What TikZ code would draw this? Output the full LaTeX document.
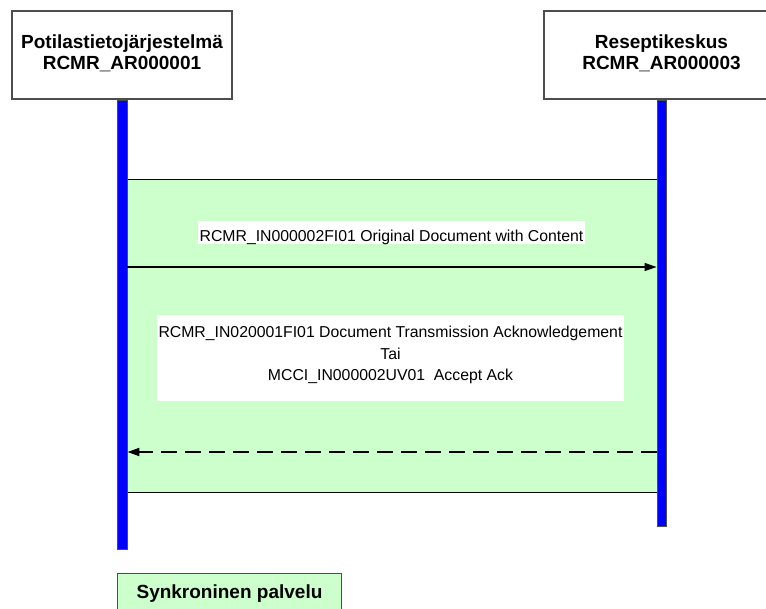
\documentclass[tikz,border=0pt]{standalone}
\usepackage{fontspec}
\setmainfont{Liberation Sans}
\usetikzlibrary{arrows.meta}
\definecolor{lgreen}{HTML}{CCFFCC}
\definecolor{bordergray}{HTML}{4D4D4D}
\begin{document}
\begin{tikzpicture}[x=1pt,y=-1pt,
  header/.style={draw=bordergray, line width=1.5pt, fill=white, minimum height=88pt, inner sep=0pt},
  headertext/.style={inner sep=0pt, align=center, font=\fontsize{19}{21.5}\selectfont\bfseries},
  lifeline/.style={draw=bordergray, line width=0.8pt, fill=blue, inner sep=0pt},
  frame/.style={draw=black, line width=0.8pt, fill=lgreen, inner sep=0pt},
  labelbg/.style={fill=white, inner sep=0pt},
  msgtext/.style={inner sep=0pt, align=center, font=\fontsize{15.8}{21.5}\selectfont},
  callarrow/.style={line width=1.4pt, -{Triangle[length=12pt,width=8pt]}},
  replyarrow/.style={line width=2pt, dash pattern=on 16pt off 8pt, -{Triangle[length=12pt,width=8pt]}},
  notebox/.style={draw=bordergray, line width=1pt, fill=lgreen, inner sep=0pt},
  notetext/.style={inner sep=0pt, font=\fontsize{19}{21.5}\selectfont\bfseries}
]
\useasboundingbox (0,0) rectangle (766,608);
% headers
\node[header, minimum width=220pt] (ha) at (122,55) {};
\node[headertext] (hat) at (122,53.5) {Potilastietojärjestelmä\\RCMR\_AR000001};
\node[header, minimum width=240pt] (hb) at (664,55) {};
\node[headertext] (hbt) at (661.5,53.5) {Reseptikeskus\\RCMR\_AR000003};
% green frame
\node[frame, minimum width=530pt, minimum height=313pt] (fr) at (392,335.5) {};
% lifelines
\node[lifeline, minimum width=10pt, minimum height=449pt] (la) at (122,324.5) {};
\node[lifeline, minimum width=9pt, minimum height=426pt] (lb) at (661.5,313) {};
% label 1
\node[labelbg, minimum width=387pt, minimum height=23pt] (l1bg) at (391.5,232.5) {};
\node[msgtext, anchor=base] (l1) at (391.5,241) {RCMR\_IN000002FI01 Original Document with Content};
% label 2
\node[labelbg, minimum width=467pt, minimum height=86pt] (l2bg) at (390.5,358) {};
\node[msgtext, anchor=north] (l2) at (390.5,326) {RCMR\_IN020001FI01 Document Transmission Acknowledgement\\Tai\\MCCI\_IN000002UV01\ \ Accept Ack};
% messages
\coordinate (a1) at (la.east |- 0,267);
\coordinate (b1) at (lb.west |- 0,267);
\draw[callarrow] (a1) -- (b1);
\coordinate (a2) at (la.east |- 0,452);
\coordinate (b2) at (lb.west |- 0,452);
\draw[replyarrow] (b2) -- (a2);
% bottom note
\node[notebox, minimum width=224pt, minimum height=46pt] (nb) at (229,596) {};
\node[notetext, anchor=base] (nt) at (229.5,598) {Synkroninen palvelu};
\end{tikzpicture}
\end{document}
